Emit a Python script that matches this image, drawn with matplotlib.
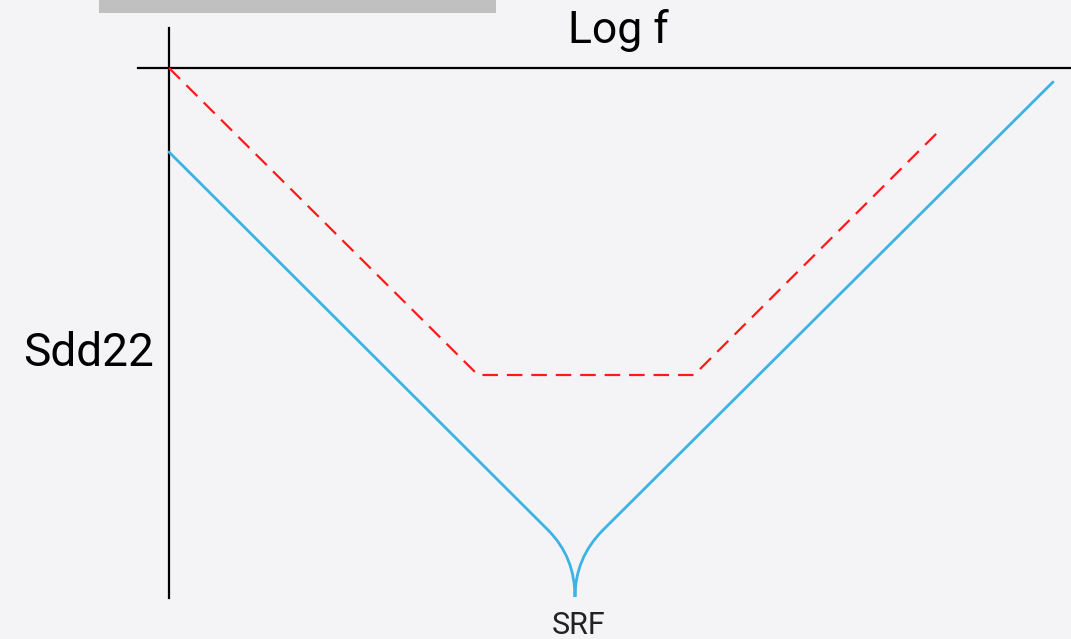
import matplotlib

matplotlib.use("Agg")
import matplotlib.pyplot as plt
from matplotlib.patches import PathPatch, Rectangle
from matplotlib.path import Path

plt.rcParams["font.family"] = ["Roboto", "DejaVu Sans"]

# schematic coordinates (pixel-like units, y grows downward)
AXIS_V_X = [169, 169]
AXIS_V_Y = [28, 598]
AXIS_H_X = [138, 1071]
AXIS_H_Y = [68, 68]

LIMIT_X = [169, 478, 694, 940]
LIMIT_Y = [68, 375, 375, 130]

MEAS_LEFT_X = [169, 548]
MEAS_LEFT_Y = [152, 530]
MEAS_RIGHT_X = [603, 1053]
MEAS_RIGHT_Y = [530, 82]
SRF_X = 575
SRF_Y = 597

BLUE = "#3db3e4"
RED = "#ff1a1a"

fig = plt.figure(figsize=(10.71, 6.39), dpi=100)
fig.patch.set_facecolor("#f4f4f6")
ax = fig.add_axes([0, 0, 1, 1])
ax.set_xlim(0, 1071)
ax.set_ylim(639, 0)
ax.axis("off")

# grey bar at the top
ax.add_patch(Rectangle((99, 0), 397, 13, color="#c0c0c0", lw=0))

ax.plot(AXIS_V_X, AXIS_V_Y, color="black", lw=1.6)
ax.plot(AXIS_H_X, AXIS_H_Y, color="black", lw=1.6)

ax.plot(LIMIT_X, LIMIT_Y, color=RED, lw=1.6, dashes=(7, 4))

ax.plot(MEAS_LEFT_X, MEAS_LEFT_Y, color=BLUE, lw=2.0, solid_capstyle="round")
ax.plot(MEAS_RIGHT_X, MEAS_RIGHT_Y, color=BLUE, lw=2.0, solid_capstyle="round")

# cusp at the self-resonant frequency
cusp = Path(
    [
        (MEAS_LEFT_X[1], MEAS_LEFT_Y[1]),
        (SRF_X, MEAS_LEFT_Y[1] + (SRF_X - MEAS_LEFT_X[1])),
        (SRF_X, SRF_Y),
        (SRF_X, MEAS_RIGHT_Y[0] + (MEAS_RIGHT_X[0] - SRF_X)),
        (MEAS_RIGHT_X[0], MEAS_RIGHT_Y[0]),
    ],
    [Path.MOVETO, Path.CURVE3, Path.CURVE3, Path.CURVE3, Path.CURVE3],
)
ax.add_patch(PathPatch(cusp, facecolor="none", edgecolor=BLUE, lw=2.0))

ax.text(618, 31, "Log f", fontsize=32, ha="center", va="center", color="black")
ax.text(89, 353, "Sdd22", fontsize=33, ha="center", va="center", color="black")
ax.text(579, 626, "SRF", fontsize=22, ha="center", va="center", color="#222222")

fig.savefig("out.png", dpi=100, facecolor=fig.get_facecolor())
